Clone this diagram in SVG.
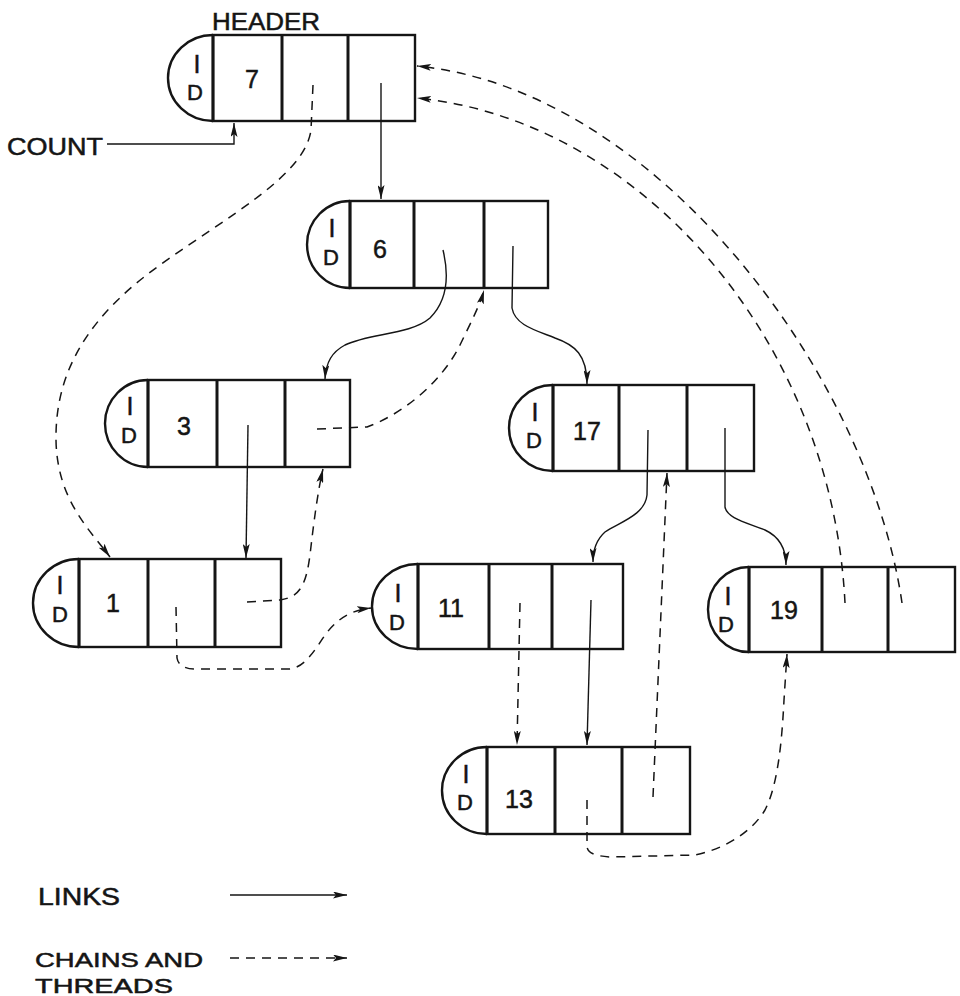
<svg xmlns="http://www.w3.org/2000/svg" width="960" height="996" viewBox="0 0 960 996">
  <style>
    .box { fill: none; stroke: #151515; stroke-width: 2.4; }
    .sep { stroke: #151515; stroke-width: 3; }
    .lbl { font-family: "Liberation Sans", Arial, sans-serif; fill: #151515; stroke: #151515; stroke-width: 0.5; }
    .id1 { font-size: 25px; text-anchor: middle; }
    .id2 { font-size: 22px; text-anchor: middle; }
    .num { font-size: 25px; text-anchor: middle; }
    .cap { font-size: 23px; }
    .leg { font-size: 21px; }
    .link { fill: none; stroke: #151515; stroke-width: 1.4; marker-end: url(#ah); }
    .chain { fill: none; stroke: #151515; stroke-width: 1.5; stroke-dasharray: 9 7; marker-end: url(#ah); }
  </style>
  <defs>
    <marker id="ah" viewBox="0 0 14 7" refX="14" refY="3.5" markerWidth="14" markerHeight="7" markerUnits="userSpaceOnUse" orient="auto">
      <path d="M0,0 L14,3.5 L0,7 L3,3.5 z" fill="#151515"/>
    </marker>
  </defs>
  <rect width="960" height="996" fill="#ffffff"/>

  <!-- record nodes: rounded ID cap, value cell, two pointer cells -->
  <g id="node-header">
    <path class="box" d="M213,35 A45,43 0 0 0 213,121"/>
    <rect class="box" x="213" y="35" width="202" height="86"/>
    <line class="sep" x1="213" y1="35" x2="213" y2="121"/>
    <line class="sep" x1="282" y1="35" x2="282" y2="121"/>
    <line class="sep" x1="348" y1="35" x2="348" y2="121"/>
    <text class="lbl id1" x="197" y="73">I</text>
    <text class="lbl id2" x="195" y="100">D</text>
    <text class="lbl num" x="252" y="88">7</text>
    <text class="lbl cap" x="212" y="30" textLength="108" lengthAdjust="spacingAndGlyphs">HEADER</text>
  </g>

  <g id="node-6">
    <path class="box" d="M350,201 A43,43.5 0 0 0 350,288"/>
    <rect class="box" x="350" y="201" width="198" height="87"/>
    <line class="sep" x1="350" y1="201" x2="350" y2="288"/>
    <line class="sep" x1="414" y1="201" x2="414" y2="288"/>
    <line class="sep" x1="484" y1="201" x2="484" y2="288"/>
    <text class="lbl id1" x="332" y="237">I</text>
    <text class="lbl id2" x="331" y="265">D</text>
    <text class="lbl num" x="380" y="258">6</text>
  </g>

  <g id="node-3">
    <path class="box" d="M148,380 A43,43.5 0 0 0 148,467"/>
    <rect class="box" x="148" y="380" width="202" height="87"/>
    <line class="sep" x1="148" y1="380" x2="148" y2="467"/>
    <line class="sep" x1="217" y1="380" x2="217" y2="467"/>
    <line class="sep" x1="285" y1="380" x2="285" y2="467"/>
    <text class="lbl id1" x="130" y="415">I</text>
    <text class="lbl id2" x="129" y="443">D</text>
    <text class="lbl num" x="184" y="435">3</text>
  </g>

  <g id="node-17">
    <path class="box" d="M553,385 A44,43 0 0 0 553,471"/>
    <rect class="box" x="553" y="385" width="201" height="86"/>
    <line class="sep" x1="553" y1="385" x2="553" y2="471"/>
    <line class="sep" x1="619" y1="385" x2="619" y2="471"/>
    <line class="sep" x1="687" y1="385" x2="687" y2="471"/>
    <text class="lbl id1" x="535" y="421">I</text>
    <text class="lbl id2" x="534" y="448">D</text>
    <text class="lbl num" x="587" y="440">17</text>
  </g>

  <g id="node-1">
    <path class="box" d="M79,559 A46,44 0 0 0 79,647"/>
    <rect class="box" x="79" y="559" width="202" height="88"/>
    <line class="sep" x1="79" y1="559" x2="79" y2="647"/>
    <line class="sep" x1="148" y1="559" x2="148" y2="647"/>
    <line class="sep" x1="215" y1="559" x2="215" y2="647"/>
    <text class="lbl id1" x="60" y="594">I</text>
    <text class="lbl id2" x="60" y="622">D</text>
    <text class="lbl num" x="113" y="612">1</text>
  </g>

  <g id="node-11">
    <path class="box" d="M418,564 A46,42.5 0 0 0 418,649"/>
    <rect class="box" x="418" y="564" width="205" height="85"/>
    <line class="sep" x1="418" y1="564" x2="418" y2="649"/>
    <line class="sep" x1="489" y1="564" x2="489" y2="649"/>
    <line class="sep" x1="552" y1="564" x2="552" y2="649"/>
    <text class="lbl id1" x="398" y="602">I</text>
    <text class="lbl id2" x="397" y="630">D</text>
    <text class="lbl num" x="451" y="617">11</text>
  </g>

  <g id="node-19">
    <path class="box" d="M749,567 A41,42.5 0 0 0 749,652"/>
    <rect class="box" x="749" y="567" width="206" height="85"/>
    <line class="sep" x1="749" y1="567" x2="749" y2="652"/>
    <line class="sep" x1="822" y1="567" x2="822" y2="652"/>
    <line class="sep" x1="888" y1="567" x2="888" y2="652"/>
    <text class="lbl id1" x="728" y="605">I</text>
    <text class="lbl id2" x="726" y="632">D</text>
    <text class="lbl num" x="784" y="619">19</text>
  </g>

  <g id="node-13">
    <path class="box" d="M487,747 A45,43.5 0 0 0 487,834"/>
    <rect class="box" x="487" y="747" width="203" height="87"/>
    <line class="sep" x1="487" y1="747" x2="487" y2="834"/>
    <line class="sep" x1="555" y1="747" x2="555" y2="834"/>
    <line class="sep" x1="622" y1="747" x2="622" y2="834"/>
    <text class="lbl id1" x="466" y="783">I</text>
    <text class="lbl id2" x="465" y="810">D</text>
    <text class="lbl num" x="519" y="808">13</text>
  </g>

  <g id="count-label">
    <text class="lbl cap" x="7" y="155" font-size="26" textLength="96" lengthAdjust="spacingAndGlyphs">COUNT</text>
  </g>

  <!-- pointers: solid = links, dashed = chains and threads -->
  <g id="connectors">
    <path class="link" d="M107,144 H234 V123"/>
    <path class="link" d="M381,83 V199"/>
    <path class="chain" d="M313,85 L311,130 C305,175 230,215 160,265 C90,315 55,370 56,440 C57,500 90,530 110,557"/>
    <path class="link" d="M443,250 C449,275 448,300 430,318 C410,335 370,333 345,345 C332,352 326,362 325,379"/>
    <path class="link" d="M513,246 L512,308 C515,325 535,330 555,338 C575,345 587,355 587,384"/>
    <path class="chain" d="M317,429 L367,427 C400,415 440,385 460,345 C472,320 480,305 484,290"/>
    <path class="link" d="M248,425 L246,558"/>
    <path class="chain" d="M247,602 L280,600 C300,597 306,585 310,555 C314,520 318,490 323,469"/>
    <path class="chain" d="M176,607 L177,658 C178,665 185,669 195,669 L290,669 C305,667 315,650 325,635 C340,615 355,610 371,608"/>
    <path class="link" d="M648,430 L647,495 C645,515 620,522 605,532 C596,540 593,550 593,562"/>
    <path class="link" d="M725,428 L725,507 C727,518 745,522 765,530 C780,537 786,550 786,565"/>
    <path class="chain" d="M520,603 L517,745"/>
    <path class="link" d="M591,600 L587,745"/>
    <path class="chain" d="M653,797 L667,473"/>
    <path class="chain" d="M587,800 L587,847 C588,853 595,856 610,857 L695,855 C720,850 750,835 765,810 C778,785 782,740 784,700 L787,654"/>
    <path class="chain" d="M845,603 C832,340 640,120 417,98"/>
    <path class="chain" d="M902,603 C870,380 660,90 417,66"/>
  </g>

  <g id="legend">
    <text class="lbl cap" x="38" y="905" textLength="82" lengthAdjust="spacingAndGlyphs">LINKS</text>
    <path class="link" d="M230,895 H347"/>
    <text class="lbl leg" x="35" y="967" textLength="168" lengthAdjust="spacingAndGlyphs">CHAINS AND</text>
    <text class="lbl leg" x="35" y="993" textLength="138" lengthAdjust="spacingAndGlyphs">THREADS</text>
    <path class="chain" d="M230,958 H347"/>
  </g>
</svg>
